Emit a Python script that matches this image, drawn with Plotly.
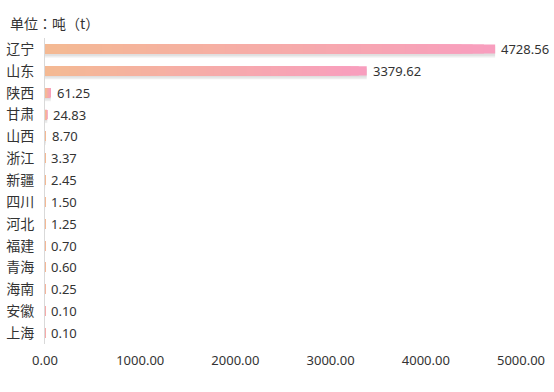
import plotly.graph_objects as go

provinces = ["辽宁", "山东", "陕西", "甘肃", "山西", "浙江", "新疆", "四川", "河北", "福建", "青海", "海南", "安徽", "上海"]
values = [4728.56, 3379.62, 61.25, 24.83, 8.70, 3.37, 2.45, 1.50, 1.25, 0.70, 0.60, 0.25, 0.10, 0.10]
x_ticks = [0, 1000, 2000, 3000, 4000, 5000]
title_text = "单位：吨（t）"

FONT = "Noto Sans, Noto Sans CJK SC, sans-serif"
CJK = "Noto Sans CJK JP, Noto Sans CJK SC, sans-serif"
c_start = (244, 186, 146)
c_end = (248, 158, 190)
BAR_W = 0.42
N = 40

W, H = 554, 392
ML, MR, MT, MB = 45, 33, 38, 47.5
PW, PH = W - ML - MR, H - MT - MB

fig = go.Figure()

# shadow
fig.add_trace(go.Bar(
    x=values, y=provinces, orientation="h", width=BAR_W + 0.08,
    offset=-(BAR_W + 0.08) / 2 + 0.14,
    marker=dict(color="rgba(0,0,0,0.07)", line=dict(width=0)),
    hoverinfo="skip", showlegend=False,
))
fig.add_trace(go.Bar(
    x=values, y=provinces, orientation="h", width=BAR_W,
    offset=-BAR_W / 2 + 0.1,
    marker=dict(color="rgba(0,0,0,0.06)", line=dict(width=0)),
    hoverinfo="skip", showlegend=False,
))

# gradient bars: progressively shorter overlays
for k in range(N):
    t = (N - k) / N
    col = tuple(round(c_start[i] + (c_end[i] - c_start[i]) * t) for i in range(3))
    fig.add_trace(go.Bar(
        x=[v * t for v in values], y=provinces, orientation="h", width=BAR_W,
        marker=dict(color="rgb(%d,%d,%d)" % col, line=dict(width=0)),
        hoverinfo="skip", showlegend=False,
    ))

# value labels
for p, v in zip(provinces, values):
    fig.add_annotation(
        x=v, y=p, xref="x", yref="y", text="%.2f" % v, showarrow=False,
        xanchor="left", yanchor="middle", xshift=4,
        font=dict(family=FONT, size=13, color="#333333"),
    )

fig.add_annotation(
    x=(8 - ML) / PW, y=1 + (MT - 23) / PH, xref="paper", yref="paper",
    text=title_text, showarrow=False, xanchor="left", yanchor="middle",
    font=dict(family=CJK, size=14, color="#333333"),
)

fig.update_layout(
    width=W, height=H,
    margin=dict(l=ML, r=MR, t=MT, b=MB),
    barmode="overlay",
    plot_bgcolor="white", paper_bgcolor="white",
    xaxis=dict(range=[0, 5000], tickvals=x_ticks, tickformat=".2f",
               showgrid=False, zeroline=False, showline=False, ticks="",
               tickfont=dict(family=FONT, size=13, color="#333333"),
               ticklabelstandoff=7, automargin=False),
    yaxis=dict(categoryorder="array", categoryarray=provinces, autorange="reversed",
               showgrid=False, zeroline=False, showline=True, linecolor="#d9d9d9",
               linewidth=1, ticks="",
               tickfont=dict(family=FONT, size=14, color="#333333"),
               ticklabelstandoff=7, automargin=False),
    font=dict(family=FONT),
)

fig.write_html("out.html", config={"displayModeBar": False},
               post_script="document.body.style.margin='0';document.body.style.overflow='hidden';")
